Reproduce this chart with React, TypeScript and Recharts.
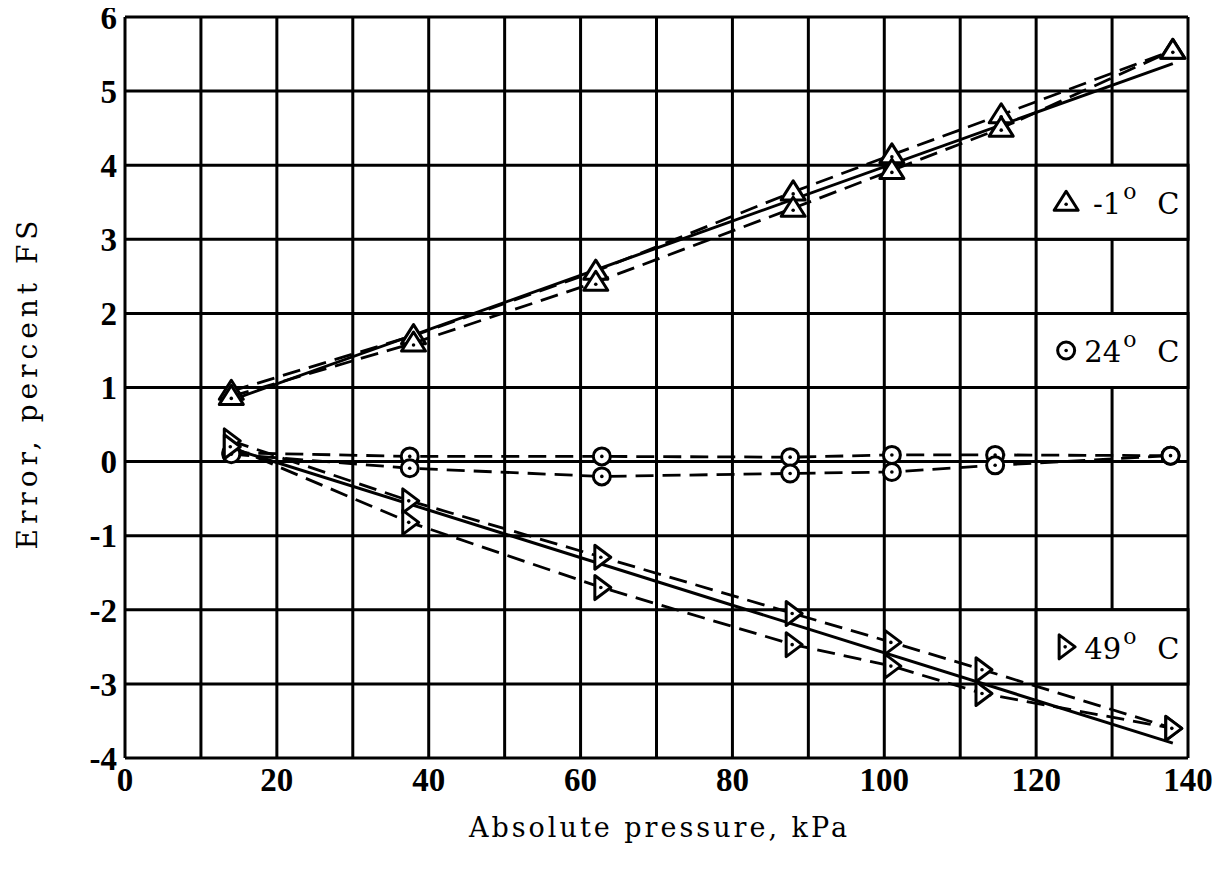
import { ScatterChart, Scatter, XAxis, YAxis, CartesianGrid, ReferenceArea } from 'recharts';

// x positions (kPa) of the calibration points for each temperature
const coldPressure = [14, 38, 62, 88, 101, 115.4, 138];
const roomPressure = [14, 37.5, 62.8, 87.6, 101, 114.6, 137.7];
const hotPressure = [14, 37.5, 62.8, 88, 101, 113, 138];
const fitPressure = [14, 138];

// error, percent FS
const coldUp = [0.95, 1.7, 2.57, 3.64, 4.14, 4.68, 5.55];
const coldDown = [0.88, 1.6, 2.42, 3.42, 3.93, 4.5, 5.55];
const coldFit = [0.83, 5.37];

const roomUp = [0.12, 0.07, 0.07, 0.06, 0.09, 0.09, 0.08];
const roomDown = [0.1, -0.09, -0.2, -0.16, -0.14, -0.05, 0.08];

const hotUp = [0.28, -0.53, -1.29, -2.05, -2.44, -2.81, -3.6];
const hotDown = [0.2, -0.82, -1.7, -2.47, -2.76, -3.13, -3.6];
const hotFit = [0.18, -3.8];

const xTicks = [0, 10, 20, 30, 40, 50, 60, 70, 80, 90, 100, 110, 120, 130, 140];
const yTicks = [-4, -3, -2, -1, 0, 1, 2, 3, 4, 5, 6];

const toPoints = (xs: number[], ys: number[]) => xs.map((x, i) => ({ x, y: ys[i] }));

const INK = '#000';
const SERIF = '"DejaVu Serif", serif';
const TICK_FONT = '"Liberation Serif", serif';
const dashed = { stroke: INK, strokeWidth: 2.8, strokeDasharray: '18 9' };
const solid = { stroke: INK, strokeWidth: 3 };

const TriUp = ({ cx, cy }: any) => (
  <g>
    <path d={`M${cx},${cy - 11} L${cx + 12},${cy + 8} L${cx - 12},${cy + 8} Z`} fill="#fff" stroke={INK} strokeWidth={3} strokeLinejoin="round" />
    <circle cx={cx} cy={cy + 2} r={1.8} fill={INK} />
  </g>
);

const Ring = ({ cx, cy }: any) => (
  <g>
    <circle cx={cx} cy={cy} r={8.5} fill="#fff" stroke={INK} strokeWidth={3} />
    <circle cx={cx} cy={cy} r={1.8} fill={INK} />
  </g>
);

const TriRight = ({ cx, cy }: any) => (
  <g>
    <path d={`M${cx - 7},${cy - 12} L${cx + 9},${cy} L${cx - 7},${cy + 12} Z`} fill="#fff" stroke={INK} strokeWidth={3} strokeLinejoin="round" />
    <circle cx={cx - 1} cy={cy} r={1.8} fill={INK} />
  </g>
);

const NoDot = () => <g />;

const BoxLabel = ({ viewBox, Marker, value }: any) => {
  const { x, y, height } = viewBox;
  const mid = y + height / 2;
  return (
    <g>
      <Marker cx={x + 30} cy={mid} />
      <text x={x + 85} y={mid + 12} textAnchor="end" fontFamily={SERIF} fontSize={29} fill={INK}>
        {value}
      </text>
      <text x={x + 87} y={mid - 3} fontFamily={SERIF} fontSize={22} fill={INK}>
        o
      </text>
      <text x={x + 121} y={mid + 12} fontFamily={SERIF} fontSize={29} fill={INK}>
        C
      </text>
    </g>
  );
};

const YTitle = ({ viewBox }: any) => {
  const cx = viewBox.x + 27;
  const cy = viewBox.y + viewBox.height / 2 - 5;
  return (
    <text x={cx} y={cy} transform={`rotate(-90 ${cx} ${cy})`} textAnchor="middle" dominantBaseline="central" fontFamily={SERIF} fontSize={28} letterSpacing={5} fill={INK}>
      Error, percent FS
    </text>
  );
};

const XTitle = ({ viewBox }: any) => (
  <text x={viewBox.x + viewBox.width / 2 + 3} y={viewBox.y + 79} textAnchor="middle" fontFamily={SERIF} fontSize={27} letterSpacing={3} fill={INK}>
    Absolute pressure, kPa
  </text>
);

export default function App() {
  return (
    <div style={{ margin: '-8px 0 0 -8px' }}>
      <ScatterChart width={1225} height={872} margin={{ top: 17, right: 37, bottom: 0, left: 0 }}>
        <CartesianGrid stroke={INK} strokeWidth={3} />
        <XAxis
          type="number"
          dataKey="x"
          domain={[0, 140]}
          ticks={xTicks}
          interval={0}
          tickFormatter={(v: number) => (v % 20 === 0 ? String(v) : '')}
          axisLine={false}
          tickLine={false}
          tickMargin={4}
          height={114}
          tick={{ fill: INK, fontFamily: TICK_FONT, fontSize: 33, fontWeight: 'bold' }}
          label={{ content: XTitle }}
        />
        <YAxis
          type="number"
          dataKey="y"
          domain={[-4, 6]}
          ticks={yTicks}
          interval={0}
          axisLine={false}
          tickLine={false}
          tickMargin={2}
          width={125}
          tick={{ fill: INK, fontFamily: TICK_FONT, fontSize: 33, fontWeight: 'bold' }}
          label={{ content: YTitle }}
        />
        <ReferenceArea x1={120} x2={140} y1={3} y2={4} fill="#fff" fillOpacity={1} stroke={INK} strokeWidth={3}
          label={(p: any) => <BoxLabel viewBox={p.viewBox} Marker={TriUp} value="-1" />} />
        <ReferenceArea x1={120} x2={140} y1={1} y2={2} fill="#fff" fillOpacity={1} stroke={INK} strokeWidth={3}
          label={(p: any) => <BoxLabel viewBox={p.viewBox} Marker={Ring} value="24" />} />
        <ReferenceArea x1={120} x2={140} y1={-3} y2={-2} fill="#fff" fillOpacity={1} stroke={INK} strokeWidth={3}
          label={(p: any) => <BoxLabel viewBox={p.viewBox} Marker={TriRight} value="49" />} />

        <Scatter data={toPoints(fitPressure, coldFit)} line={solid} shape={NoDot} isAnimationActive={false} />
        <Scatter data={toPoints(fitPressure, hotFit)} line={solid} shape={NoDot} isAnimationActive={false} />

        <Scatter data={toPoints(coldPressure, coldUp)} line={dashed} shape={TriUp} isAnimationActive={false} />
        <Scatter data={toPoints(coldPressure, coldDown)} line={dashed} shape={TriUp} isAnimationActive={false} />
        <Scatter data={toPoints(roomPressure, roomUp)} line={dashed} shape={Ring} isAnimationActive={false} />
        <Scatter data={toPoints(roomPressure, roomDown)} line={dashed} shape={Ring} isAnimationActive={false} />
        <Scatter data={toPoints(hotPressure, hotUp)} line={dashed} shape={TriRight} isAnimationActive={false} />
        <Scatter data={toPoints(hotPressure, hotDown)} line={dashed} shape={TriRight} isAnimationActive={false} />
      </ScatterChart>
    </div>
  );
}
